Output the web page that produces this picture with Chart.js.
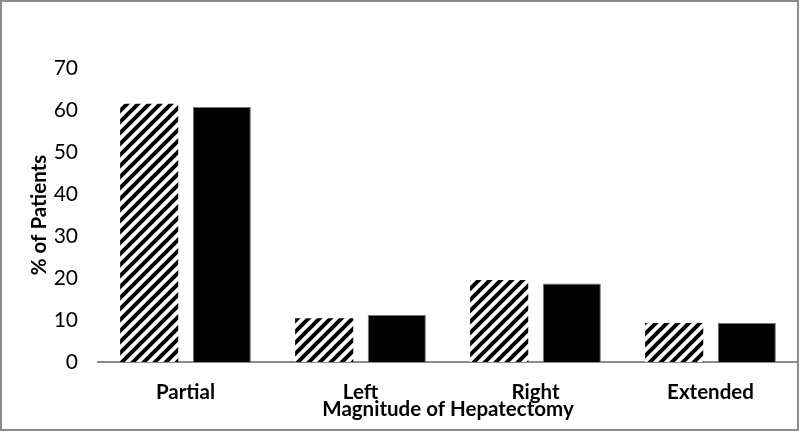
<!DOCTYPE html>
<html>
<head>
<meta charset="utf-8">
<script src="https://cdn.jsdelivr.net/npm/chart.js@4.4.1/dist/chart.umd.min.js"></script>
<style>
  html, body { margin: 0; padding: 0; background: #fff; }
  #wrap { width: 800px; height: 432px; }
</style>
</head>
<body>
<div id="wrap"><canvas id="myChart" width="800" height="432"></canvas></div>
<script>
// values
const categories = ['Partial', 'Left', 'Right', 'Extended'];
const seriesA = [61.5, 10.4, 19.5, 9.3];   // hatched
const seriesB = [60.7, 11.2, 18.7, 9.3];   // solid black
const yTicks = [0, 10, 20, 30, 40, 50, 60, 70];

// diagonal hatch fill
function makeHatch () {
  const c = document.createElement('canvas');
  c.width = 11; c.height = 11;
  const g = c.getContext('2d');
  g.fillStyle = '#fff';
  g.fillRect(0, 0, 11, 11);
  g.strokeStyle = '#000';
  g.lineWidth = 4;
  g.beginPath();
  g.moveTo(-2, 13); g.lineTo(13, -2);
  g.moveTo(-13, 13); g.lineTo(2, -2);
  g.moveTo(9, 13); g.lineTo(24, -2);
  g.stroke();
  return g.createPattern(c, 'repeat');
}

const frame = {
  id: 'frame',
  afterDraw (chart) {
    const g = chart.ctx;
    g.save();
    g.strokeStyle = '#8c8c8c';
    g.lineWidth = 2;
    g.strokeRect(1, 1, 797, 429);
    g.restore();
  }
};

const ctx = document.getElementById('myChart').getContext('2d');
new Chart(ctx, {
  type: 'bar',
  data: {
    labels: categories,
    datasets: [{
      data: seriesA,
      backgroundColor: makeHatch(),
      borderWidth: 0
    }, {
      data: seriesB,
      backgroundColor: '#000',
      borderColor: '#777',
      borderWidth: 1
    }]
  },
  options: {
    responsive: false,
    animation: false,
    categoryPercentage: 0.83,
    barPercentage: 0.8,
    layout: { padding: { top: 68, left: 24, right: 2, bottom: 10 } },
    plugins: { legend: { display: false }, tooltip: { enabled: false } },
    scales: {
      x: {
        grid: { display: false, drawTicks: false },
        border: { display: true, color: '#8c8c8c', width: 2 },
        ticks: { color: '#000', padding: 18, font: { family: 'Lato', size: 20.5, weight: 'bold' } },
        title: { display: true, text: 'Magnitude of Hepatectomy', color: '#000', padding: 0,
                 font: { family: 'Lato', size: 20.5, weight: 'bold' } },
        afterFit: s => { s.height = 60; }
      },
      y: {
        min: 0, max: 70,
        afterBuildTicks: s => { s.ticks = yTicks.map(v => ({ value: v })); },
        grid: { display: false, drawTicks: false },
        border: { display: false },
        ticks: { color: '#000', padding: 20, font: { family: 'Lato', size: 21 } },
        title: { display: true, text: '% of Patients', color: '#000', padding: 3,
                 font: { family: 'Lato', size: 20.5, weight: 'bold' } },
        afterFit: s => { s.width = 74; }
      }
    }
  },
  plugins: [frame]
});
</script>
</body>
</html>
